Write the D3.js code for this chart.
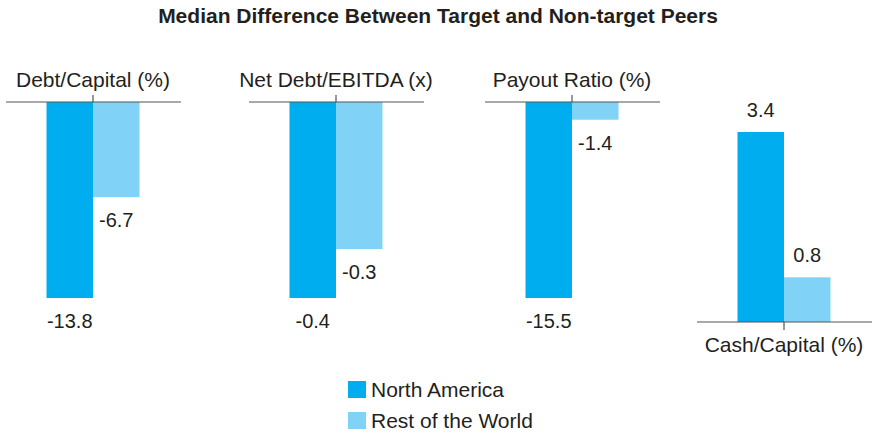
<!DOCTYPE html>
<html>
<head>
<meta charset="utf-8">
<script src="https://cdn.jsdelivr.net/npm/d3@7"></script>
<style>
  body { margin: 0; background: #fff; }
  text { font-family: "Liberation Sans", Arial, Helvetica, sans-serif; fill: #231f20; }
</style>
</head>
<body>
<div id="chart"></div>
<script>
// data
const metrics = ["Debt/Capital (%)", "Net Debt/EBITDA (x)", "Payout Ratio (%)", "Cash/Capital (%)"];
const seriesNames = ["North America", "Rest of the World"];
const northAmerica = [-13.8, -0.4, -15.5, 3.4];
const restOfWorld = [-6.7, -0.3, -1.4, 0.8];
const titleText = "Median Difference Between Target and Non-target Peers";

const colors = ["#00aeef", "#80d3f6"];

const width = 872, height = 433;
// panel layout: centre of each small chart
const panelCenters = [93, 336, 572, 784];
const topBase = 102, bottomBase = 322;
const barSpan = 196;

const svg = d3.select("#chart").append("svg")
  .attr("width", width)
  .attr("height", height);

svg.append("text")
  .attr("x", 438)
  .attr("y", 23)
  .attr("text-anchor", "middle")
  .style("font-size", "21px")
  .style("font-weight", "bold")
  .text(titleText);

metrics.forEach((m, i) => {
  const vals = [northAmerica[i], restOfWorld[i]];
  const neg = d3.min(vals) < 0;
  const cx = panelCenters[i];
  const base = neg ? topBase : bottomBase;
  const extreme = neg ? d3.min(vals) : d3.max(vals);

  const x = d3.scaleBand().domain(seriesNames).range([cx - 46.5, cx + 46.5]).padding(0);
  const y = d3.scaleLinear().domain([0, extreme])
    .range(neg ? [base, base + barSpan] : [base, base - 190]);

  const g = svg.append("g");

  g.selectAll("rect")
    .data(vals)
    .enter().append("rect")
    .attr("x", (d, j) => x(seriesNames[j]))
    .attr("width", x.bandwidth())
    .attr("y", d => Math.min(y(d), y(0)))
    .attr("height", d => Math.abs(y(d) - y(0)))
    .attr("fill", (d, j) => colors[j]);

  // baseline and centre tick
  g.append("line")
    .attr("x1", cx - 87).attr("x2", cx + 88)
    .attr("y1", y(0)).attr("y2", y(0))
    .attr("stroke", "#555").attr("stroke-width", 1.2);
  g.append("line")
    .attr("x1", cx).attr("x2", cx)
    .attr("y1", y(0)).attr("y2", neg ? y(0) - 7 : y(0) + 8)
    .attr("stroke", "#555").attr("stroke-width", 1.2);

  // value labels
  g.selectAll(".val")
    .data(vals)
    .enter().append("text")
    .attr("class", "val")
    .attr("x", (d, j) => x(seriesNames[j]) + x.bandwidth() / 2)
    .attr("y", d => d < 0 ? y(d) + 30 : y(d) - 15)
    .attr("text-anchor", "middle")
    .style("font-size", "20px")
    .text(d => d.toFixed(1));

  // metric label
  g.append("text")
    .attr("x", cx)
    .attr("y", neg ? y(0) - 15 : y(0) + 30)
    .attr("text-anchor", "middle")
    .style("font-size", "21px")
    .text(m);
});

// legend
const legend = svg.append("g").attr("transform", "translate(348,381)");
seriesNames.forEach((s, j) => {
  const row = legend.append("g").attr("transform", `translate(0,${j * 31})`);
  row.append("rect").attr("width", 18).attr("height", 17).attr("fill", colors[j]);
  row.append("text").attr("x", 23).attr("y", 16).style("font-size", "21px").text(s);
});
</script>
</body>
</html>
